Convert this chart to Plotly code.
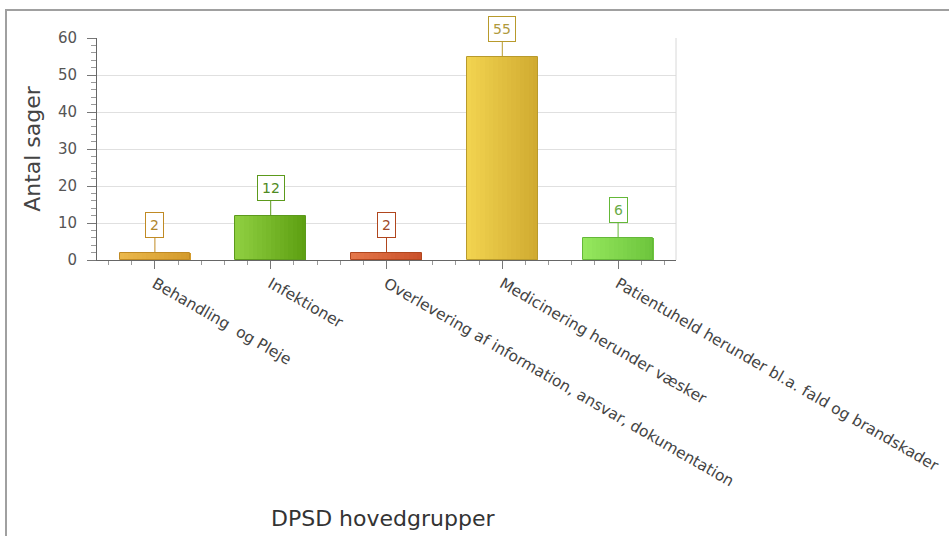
import plotly.graph_objects as go

# DPSD main groups and number of cases
categories = [
    "Behandling\u00a0 og Pleje",
    "Infektioner",
    "Overlevering af information, ansvar, dokumentation",
    "Medicinering herunder væsker",
    "Patientuheld herunder bl.a. fald og brandskader",
]
antal = [2, 12, 2, 55, 6]

y_ticks = [0, 10, 20, 30, 40, 50, 60]

# bar colours: light left edge -> dark right edge, outline, value-label colour
fill_left = ["#ebb84c", "#90d042", "#e4774a", "#f2d450", "#96e85e"]
fill_right = ["#d39a2c", "#5c9e10", "#c9502a", "#d0aa30", "#6cc43c"]
edge = ["#c08a24", "#5c9a1c", "#b0461e", "#b89a2c", "#64b838"]
label_col = ["#b0862c", "#4e8a22", "#a04a28", "#b09a3c", "#6aac48"]

W, H = 949, 536
L, R, T, B = 97, 273, 38, 276
PW, PH = W - L - R, H - T - B

BAR_W = 0.61
N_SLICES = 16


def mix(c1, c2, t):
    a = [int(c1[i:i + 2], 16) for i in (1, 3, 5)]
    b = [int(c2[i:i + 2], 16) for i in (1, 3, 5)]
    return "rgb(%d,%d,%d)" % tuple(round(a[k] + (b[k] - a[k]) * t) for k in range(3))


xs = list(range(len(categories)))

fig = go.Figure()

# gradient fill drawn as thin vertical slices of each bar
sw = BAR_W / N_SLICES
for i in range(N_SLICES):
    t = (i + 0.5) / N_SLICES
    fig.add_trace(go.Bar(
        x=xs, y=antal,
        width=sw * 1.08,
        offset=-BAR_W / 2 + i * sw,
        marker=dict(color=[mix(a, b, t) for a, b in zip(fill_left, fill_right)],
                    line=dict(width=0)),
        hoverinfo="skip", showlegend=False,
    ))

# bar outlines
fig.add_trace(go.Bar(
    x=xs, y=antal, width=BAR_W,
    marker=dict(color="rgba(0,0,0,0)", line=dict(color=edge, width=1)),
    customdata=categories,
    hovertemplate="%{customdata}: %{y}<extra></extra>",
    showlegend=False,
))

# boxed value labels with leader lines
for x, v, bc, tc in zip(xs, antal, edge, label_col):
    fig.add_annotation(
        x=x, y=v, xref="x", yref="y",
        text=str(v), showarrow=True, arrowhead=0, arrowwidth=1, arrowcolor=bc,
        ax=0, ay=-28, standoff=0,
        bordercolor=bc, borderwidth=1, borderpad=4, bgcolor="white",
        font=dict(family="DejaVu Sans", size=14, color=tc),
    )

# axis title below the rotated category labels
fig.add_annotation(
    x=(383 - L) / PW, y=(T + PH - 518) / PH, xref="paper", yref="paper",
    text="DPSD hovedgrupper", showarrow=False,
    xanchor="center", yanchor="middle",
    font=dict(family="DejaVu Sans", size=22, color="#333333"),
)

# outer frame around the chart
fig.add_shape(
    type="rect", xref="paper", yref="paper",
    x0=(6 - L) / PW, x1=(W + 20 - L) / PW,
    y0=(T + PH - (H + 20)) / PH, y1=(T + PH - 10) / PH,
    line=dict(color="#a0a0a0", width=2), fillcolor="rgba(0,0,0,0)", layer="below",
)
# right edge of the plotting area
fig.add_shape(
    type="line", xref="paper", yref="paper", x0=1, x1=1, y0=0, y1=1,
    line=dict(color="#d8d8d8", width=1),
)

fig.update_layout(
    width=W, height=H,
    margin=dict(l=L, r=R, t=T, b=B, autoexpand=False),
    paper_bgcolor="white", plot_bgcolor="white",
    barmode="overlay", bargap=0,
    font=dict(family="DejaVu Sans", color="#444444"),
    xaxis=dict(
        range=[-0.5, 4.5], tickmode="array", tickvals=xs, ticktext=categories,
        tickangle=30, tickfont=dict(size=15.4, color="#444444"),
        ticks="outside", ticklen=8, tickcolor="#777777",
        minor=dict(dtick=0.2, tick0=0, ticks="outside", ticklen=4, tickcolor="#999999"),
        showline=True, linecolor="#666666", linewidth=1,
        showgrid=False, zeroline=False, automargin=False, fixedrange=True,
    ),
    yaxis=dict(
        range=[0, 60], tickmode="array", tickvals=y_ticks,
        tickfont=dict(size=15, color="#555555"),
        ticks="outside", ticklen=9, tickcolor="#777777", ticklabelstandoff=7,
        minor=dict(dtick=2, ticks="outside", ticklen=5, tickcolor="#999999", showgrid=False),
        showline=True, linecolor="#666666", linewidth=1,
        showgrid=True, gridcolor="#e0e0e0", zeroline=False,
        title=dict(text="Antal sager", font=dict(size=22, color="#444444"), standoff=11),
        automargin=False, fixedrange=True,
    ),
)

fig.write_html("out.html")
